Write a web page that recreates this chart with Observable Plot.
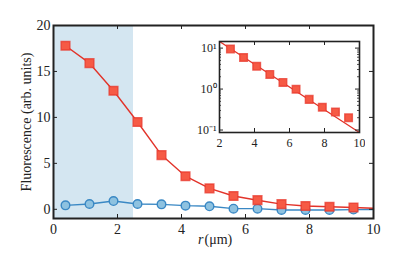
<!DOCTYPE html>
<html>
<head>
<meta charset="utf-8">
<style>
  body { margin: 0; background: white; font-family: "Liberation Serif", serif; }
  #wrap { position: relative; width: 399px; height: 269px; }
  #wrap svg { display: block; }
  #inset { position: absolute; left: 189px; top: 37px; }
  #fontwarm { position: absolute; left: 0; top: 0; font-family: "Liberation Serif"; font-size: 14px; color: white; opacity: 0.01; pointer-events: none; }
</style>
</head>
<body>
<div id="fontwarm">Fluorescence 0123456789 <i>r</i> (μm) ⁰¹⁻</div>
<div id="wrap"><div id="main"></div><div id="inset"></div></div>
<script src="https://cdn.jsdelivr.net/npm/d3@7"></script>
<script src="https://cdn.jsdelivr.net/npm/@observablehq/plot@0.6"></script>
<script>
// ---- data ----
const radius = [0.375, 1.125, 1.875, 2.625, 3.375, 4.125, 4.875, 5.625, 6.375, 7.125, 7.875, 8.625, 9.375];
const redValues = [17.8, 15.9, 12.9, 9.5, 5.9, 3.6, 2.28, 1.45, 0.99, 0.56, 0.36, 0.275, 0.2];
const blueValues = [0.43, 0.58, 0.9, 0.58, 0.54, 0.4, 0.33, 0.07, 0.07, -0.07, -0.07, -0.07, -0.03];
const lineEndR = 10;
const redEnd = 0.12;
const blueEnd = -0.02;
const shadedBand = [0, 2.5];
const xTicks = [0, 2, 4, 6, 8, 10];
const yTicks = [0, 5, 10, 15, 20];
const insetXTicks = [2, 4, 6, 8, 10];
const insetMajor = [0.1, 1, 10];
const insetMinor = [0.2,0.3,0.4,0.5,0.6,0.7,0.8,0.9,2,3,4,5,6,7,8,9];
const fitR = [2, 10];
const fitValues = [14.5, 0.087];

const red = radius.map((r, i) => ({r, v: redValues[i]}));
const blue = radius.map((r, i) => ({r, v: blueValues[i]}));
const redLine = [...red, {r: lineEndR, v: redEnd}];
const blueLine = [...blue, {r: lineEndR, v: blueEnd}];
const fit = fitR.map((r, i) => ({r, v: fitValues[i]}));
const insetPts = red.filter(d => d.r > 2);

const RED_LINE = "#e2332a", RED_FILL = "#f65a45", RED_STROKE = "#e8382c";
const BLUE_LINE = "#3a88c4", BLUE_FILL = "#8ec2e0", BLUE_STROKE = "#3a88c4";
const INK = "#222";
const FONT = "Liberation Serif";

function draw() {
  const W = 399, H = 269, mL = 53, mR = 26, mT = 25, mB = 51;
  const iW = W - mL - mR, iH = H - mT - mB;

  const main = Plot.plot({
    width: W, height: H,
    marginLeft: mL, marginRight: mR, marginTop: mT, marginBottom: mB,
    style: {fontFamily: FONT, fontSize: "14px", background: "transparent", color: INK},
    x: {domain: [0, 10]},
    y: {domain: [-1, 20]},
    marks: [
      Plot.rect([shadedBand], {x1: d => d[0], x2: d => d[1], fill: "#d4e6f1"}),
      Plot.line(blueLine, {x: "r", y: "v", stroke: BLUE_LINE, strokeWidth: 1.4}),
      Plot.dot(blue, {x: "r", y: "v", r: 4.3, fill: BLUE_FILL, stroke: BLUE_STROKE, strokeWidth: 1.4}),
      Plot.line(redLine, {x: "r", y: "v", stroke: RED_LINE, strokeWidth: 1.4}),
      Plot.dot(red, {x: "r", y: "v", symbol: "square", r: 4.9, fill: RED_FILL, stroke: RED_STROKE, strokeWidth: 1.5, strokeOpacity: 0.75}),
      Plot.tickX(xTicks, {x: d => d, insetTop: iH - 4, stroke: INK, strokeWidth: 1}),
      Plot.tickX(xTicks, {x: d => d, insetBottom: iH - 4, stroke: INK, strokeWidth: 1}),
      Plot.tickY(yTicks, {y: d => d, insetRight: iW - 4, stroke: INK, strokeWidth: 1}),
      Plot.tickY(yTicks, {y: d => d, insetLeft: iW - 4, stroke: INK, strokeWidth: 1}),
      Plot.axisX(xTicks, {tickSize: 0, tickPadding: 6, label: null, fontSize: 14, fontFamily: FONT}),
      Plot.axisY(yTicks, {tickSize: 0, tickPadding: 3, label: null, fontSize: 14, fontFamily: FONT}),
      Plot.text(["Fluorescence (arb. units)"], {frameAnchor: "left", rotate: -90, textAnchor: "middle", dx: -27, fontSize: 14, fontFamily: FONT, fill: INK}),
      Plot.text(["r"], {frameAnchor: "bottom", dy: 25, dx: -10, textAnchor: "end", fontStyle: "italic", fontSize: 14, fontFamily: FONT, fill: INK}),
      Plot.text(["(μm)"], {frameAnchor: "bottom", dy: 25, dx: -9, textAnchor: "start", fontSize: 14, fontFamily: FONT, fill: INK}),
      Plot.frame({stroke: INK, strokeWidth: 2})
    ]
  });

  const iL = 30, iR = 6, iT = 4, iB = 20, innerW = 140, innerH = 91;
  const sup = {"-": "⁻", "0": "⁰", "1": "¹"};
  const inset = Plot.plot({
    width: iL + innerW + iR, height: iT + innerH + iB,
    marginLeft: iL, marginRight: iR, marginTop: iT, marginBottom: iB,
    style: {fontFamily: FONT, fontSize: "12px", background: "transparent", color: INK},
    x: {domain: [2, 10]},
    y: {type: "log", domain: [0.087, 14.5]},
    marks: [
      Plot.frame({fill: "white"}),
      Plot.line(fit, {x: "r", y: "v", stroke: RED_LINE, strokeWidth: 1.3, clip: true}),
      Plot.dot(insetPts, {x: "r", y: "v", symbol: "square", r: 4.3, fill: RED_FILL, stroke: RED_STROKE, strokeWidth: 1.4, strokeOpacity: 0.75}),
      Plot.tickX(insetXTicks, {x: d => d, insetTop: innerH - 4, stroke: INK}),
      Plot.tickX(insetXTicks, {x: d => d, insetBottom: innerH - 4, stroke: INK}),
      Plot.tickY(insetMajor, {y: d => d, insetRight: innerW - 4, stroke: INK}),
      Plot.tickY(insetMajor, {y: d => d, insetLeft: innerW - 4, stroke: INK}),
      Plot.tickY(insetMinor, {y: d => d, insetRight: innerW - 2, stroke: INK, strokeWidth: 0.8}),
      Plot.tickY(insetMinor, {y: d => d, insetLeft: innerW - 2, stroke: INK, strokeWidth: 0.8}),
      Plot.axisX(insetXTicks, {tickSize: 0, tickPadding: 6, label: null, fontSize: 12, fontFamily: FONT}),
      Plot.axisY(insetMajor, {tickSize: 0, tickPadding: 3, label: null, fontSize: 12, fontFamily: FONT,
        tickFormat: d => "10" + String(Math.round(Math.log10(d))).split("").map(c => sup[c]).join("")}),
      Plot.frame({stroke: INK, strokeWidth: 1.6})
    ]
  });

  document.getElementById("main").replaceChildren(main);
  document.getElementById("inset").replaceChildren(inset);
}

draw();
if (document.fonts) {
  Promise.all([
    document.fonts.load("14px 'Liberation Serif'"),
    document.fonts.load("italic 14px 'Liberation Serif'")
  ]).then(draw).catch(() => {});
  document.fonts.ready.then(draw);
}
</script>
</body>
</html>
